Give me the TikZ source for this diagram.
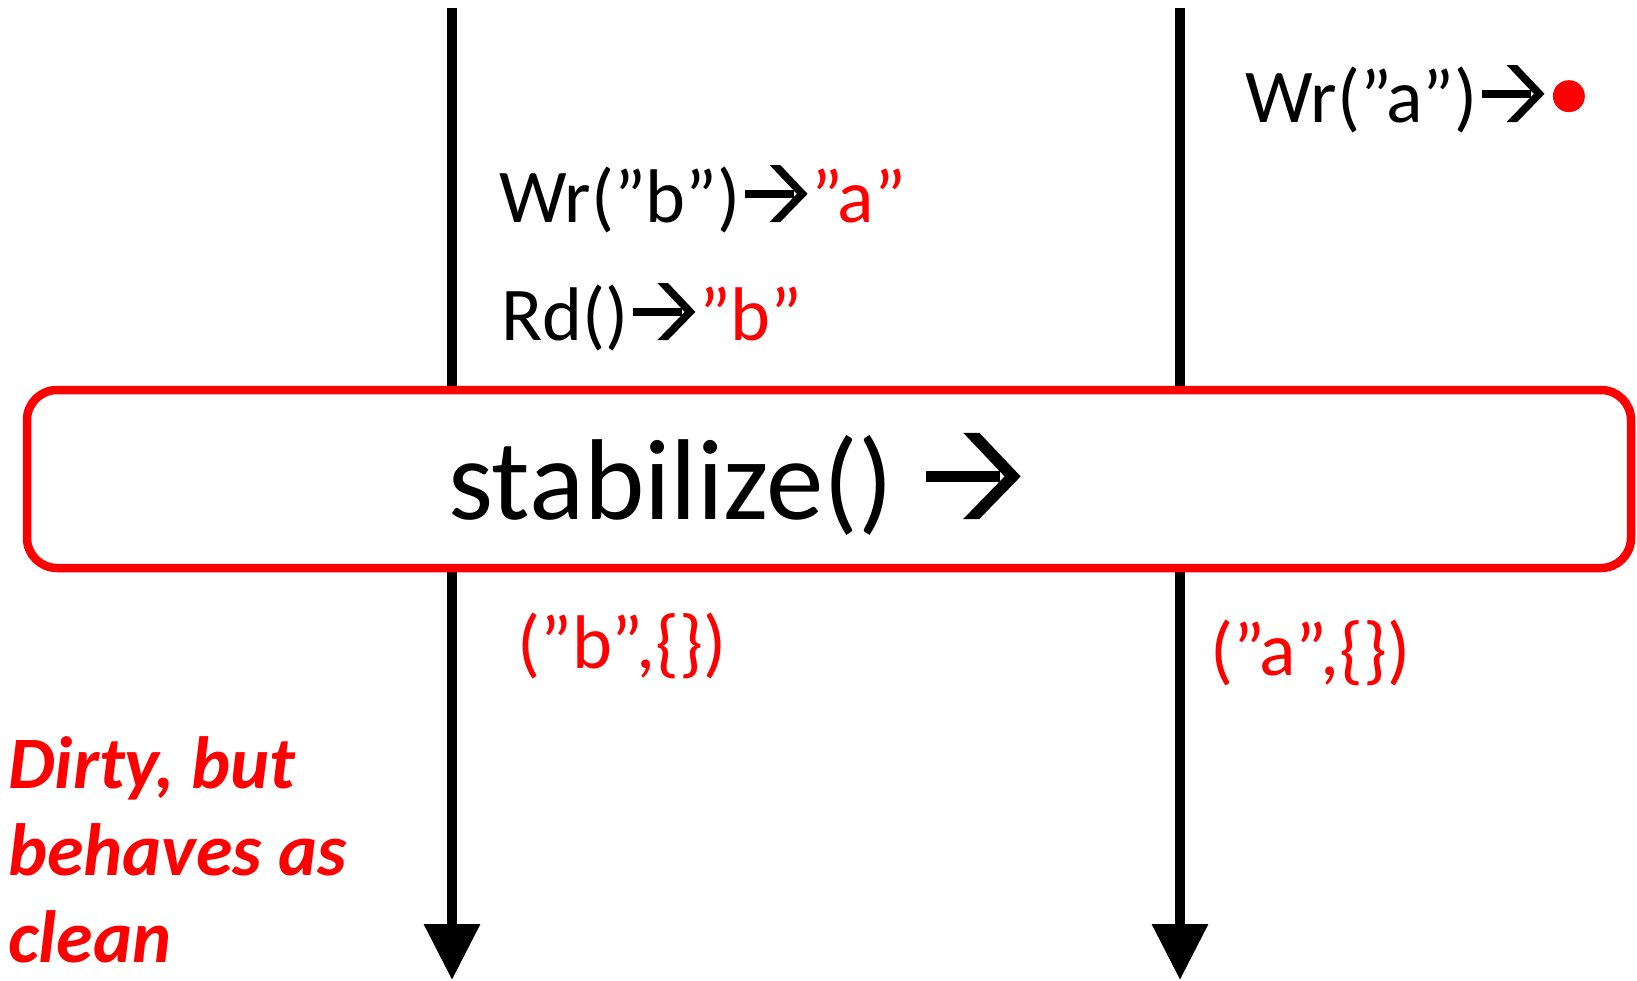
\documentclass[tikz,border=0pt]{standalone}
\usepackage{fontspec}
\setmainfont{Carlito}
\usetikzlibrary{arrows.meta}
\newcommand{\warr}{\tikz[baseline=0pt,x=1em,y=1em]{\useasboundingbox (0,0) rectangle (0.93,0.75); \fill (0.06,0.32) rectangle (0.70,0.42); \fill (0.38,0.75) -- (0.52,0.75) -- (0.88,0.37) -- (0.52,0) -- (0.38,0) -- (0.74,0.37) -- cycle;}}
\newcommand{\rdot}{\tikz[baseline=0pt,x=1em,y=1em]{\useasboundingbox (0,0) rectangle (0.5,0.72); \fill[red] (0.27,0.34) circle (0.21);}}
\begin{document}
\begin{tikzpicture}[x=1pt,y=-1pt,
  lbl/.style={anchor=base west, inner sep=0pt, font=\fontsize{76}{90}\selectfont},
  life/.style={line width=10pt, -{Triangle[width=54pt,length=56pt]}},
  stabbox/.style={draw=red, line width=8.5pt, rounded corners=30pt, fill=white, minimum width=1604pt, minimum height=178pt, inner sep=0pt},
  note/.style={anchor=base west, inner sep=0pt, align=left, text depth=0pt, text=red, font=\fontsize{74}{87}\selectfont\bfseries\itshape}]
\useasboundingbox (0,0) rectangle (1637,980);
\coordinate (ltop) at (452,8);
\coordinate (lbot) at (452,980);
\coordinate (rtop) at (1180,8);
\coordinate (rbot) at (1180,980);
\draw[life] (ltop) -- (lbot);
\draw[life] (rtop) -- (rbot);
\node[stabbox] (stab) at (829,479) {};
\node[anchor=base west, inner sep=0pt, font=\fontsize{115}{130}\selectfont] (stabtxt) at (448,519) {stabilize() \warr};
\node[lbl] (wra) at (1245,122) {Wr(”a”)\warr\rdot};
\node[lbl] (wrb) at (499,222) {Wr(”b”)\warr\textcolor{red}{”a”}};
\node[lbl] (rd) at (501,340) {Rd()\warr\textcolor{red}{”b”}};
\node[lbl, text=red] (resb) at (517,668) {(”b”,\{\})};
\node[lbl, text=red] (resa) at (1210,675) {(”a”,\{\})};
\node[note] (dirty) at (8,962) {Dirty, but\\behaves as\\clean};
\end{tikzpicture}
\end{document}
